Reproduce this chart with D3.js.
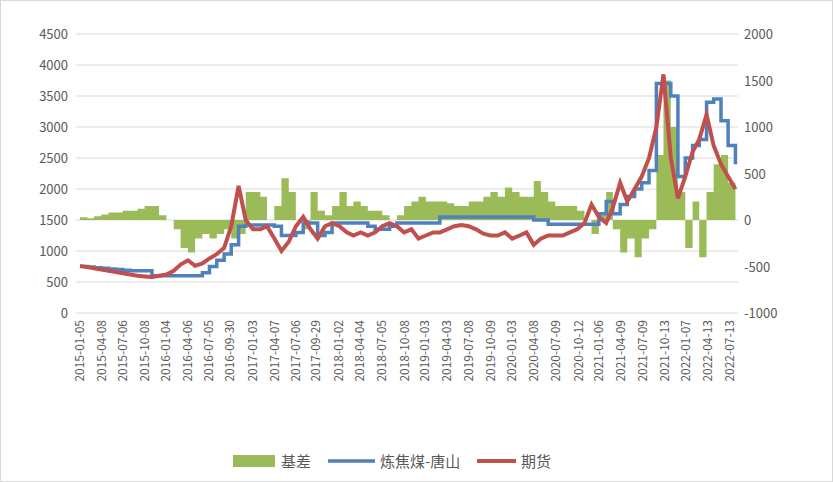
<!DOCTYPE html>
<html><head><meta charset="utf-8">
<script src="https://cdn.jsdelivr.net/npm/d3@7/dist/d3.min.js"></script>
<style>body{margin:0;background:#fff;font-family:"Noto Sans CJK SC","Liberation Sans",sans-serif;}</style>
</head><body><svg id="c" width="833" height="482"></svg>
<script>
const tickLabels=["2015-01-05","2015-04-08","2015-07-06","2015-10-08","2016-01-04","2016-04-06","2016-07-05","2016-09-30","2017-01-03","2017-04-07","2017-07-06","2017-09-29","2018-01-02","2018-04-04","2018-07-05","2018-10-08","2019-01-03","2019-04-03","2019-07-08","2019-10-09","2020-01-03","2020-04-08","2020-07-09","2020-10-12","2021-01-06","2021-04-09","2021-07-09","2021-10-13","2022-01-07","2022-04-13","2022-07-13"];
const spot=[750,740,730,720,710,700,690,680,680,680,600,600,600,600,600,600,600,650,750,850,950,1100,1400,1420,1420,1420,1420,1400,1250,1250,1300,1450,1450,1250,1300,1450,1450,1450,1450,1450,1400,1350,1350,1400,1450,1450,1450,1450,1450,1450,1550,1550,1550,1550,1550,1550,1550,1550,1550,1550,1550,1550,1550,1500,1500,1430,1430,1430,1430,1430,1430,1430,1600,1800,1600,1750,1880,2000,2100,2300,3700,3700,3500,2200,2500,2700,2800,3400,3450,3100,2700,2400];
const futures=[760,740,720,700,680,660,640,620,600,590,580,600,620,680,780,850,760,800,880,950,1050,1400,2050,1500,1350,1350,1400,1200,1000,1150,1400,1550,1350,1200,1400,1450,1400,1300,1250,1300,1250,1300,1400,1450,1400,1300,1350,1200,1250,1300,1300,1350,1400,1420,1400,1350,1280,1250,1250,1300,1200,1250,1300,1100,1200,1250,1250,1250,1300,1350,1450,1750,1550,1450,1700,2100,1800,2000,2200,2500,3000,3850,2500,1850,2200,2600,2800,3200,2700,2400,2200,2000];
const basis=[30,20,40,60,80,80,100,100,120,150,150,50,0,-100,-300,-350,-200,-150,-200,-150,-100,-200,-150,300,300,250,0,150,450,300,0,-100,300,100,50,150,300,150,200,150,100,100,50,0,50,150,200,250,200,200,200,180,150,150,200,200,250,300,250,350,300,250,250,420,300,200,150,150,150,100,0,-150,50,300,-100,-350,-200,-400,-200,-100,700,1500,1000,300,-300,200,-400,300,600,700,400,500];
const leftTicks=[0,500,1000,1500,2000,2500,3000,3500,4000,4500];
const rightTicks=[-1000,-500,0,500,1000,1500,2000];

const svg=d3.select("#c");
const parse=d3.timeParse("%Y-%m-%d");
const dates=spot.map((_,i)=>new Date(2015,i,5));
const L=76,R=738,T=34,B=313;
const x=d3.scaleTime().domain([parse("2015-01-05"),parse("2022-07-13")]).range([80,730]);
const yL=d3.scaleLinear().domain([0,4500]).range([B,T]);
const yR=d3.scaleLinear().domain([-1000,2000]).range([B,T]);
svg.append("rect").attr("x",0.5).attr("y",0.5).attr("width",832).attr("height",481).attr("fill","none").attr("stroke","#d9d9d9");
svg.append("g").selectAll("line").data(leftTicks).join("line").attr("x1",L).attr("x2",R).attr("y1",d=>yL(d)).attr("y2",d=>yL(d)).attr("stroke","#d9d9d9");
const tf={"font-size":"13px",fill:"#595959"};
svg.append("g").selectAll("text").data(leftTicks).join("text").attr("x",68).attr("y",d=>yL(d)+5).attr("text-anchor","end").text(d=>d).attr("font-size",13).attr("fill","#595959");
svg.append("g").selectAll("text").data(rightTicks).join("text").attr("x",744).attr("y",d=>yR(d)+5).attr("text-anchor","start").text(d=>d).attr("font-size",13).attr("fill","#595959");
svg.append("g").selectAll("text").data(tickLabels).join("text")
 .attr("transform",d=>`translate(${x(parse(d))+4},320) rotate(-90)`).attr("text-anchor","end").text(d=>d).attr("font-size",12).attr("fill","#595959");
const area=d3.area().x((d,i)=>x(dates[i])).y0(yR(0)).y1(d=>yR(d)).curve(d3.curveStepAfter);
svg.append("path").datum(basis).attr("d",area).attr("fill","#9bbb59");
const line=d3.line().x((d,i)=>x(dates[i])).y(d=>yL(d));
svg.append("path").datum(spot).attr("d",line.curve(d3.curveStepAfter)).attr("fill","none").attr("stroke","#4f81bd").attr("stroke-width",3.5);
svg.append("path").datum(futures).attr("d",d3.line().x((d,i)=>x(dates[i])).y(d=>yL(d))).attr("fill","none").attr("stroke","#c0504d").attr("stroke-width",4);
const lg=svg.append("g").attr("font-size",15).attr("fill","#595959");
lg.append("rect").attr("x",233).attr("y",455).attr("width",42).attr("height",12).attr("fill","#9bbb59");
lg.append("text").attr("x",281).attr("y",467).text("基差");
lg.append("line").attr("x1",328).attr("x2",375).attr("y1",461).attr("y2",461).attr("stroke","#4f81bd").attr("stroke-width",3.5);
lg.append("text").attr("x",380).attr("y",467).text("炼焦煤-唐山");
lg.append("line").attr("x1",477).attr("x2",516).attr("y1",461).attr("y2",461).attr("stroke","#c0504d").attr("stroke-width",4);
lg.append("text").attr("x",521).attr("y",467).text("期货");
</script></body></html>
